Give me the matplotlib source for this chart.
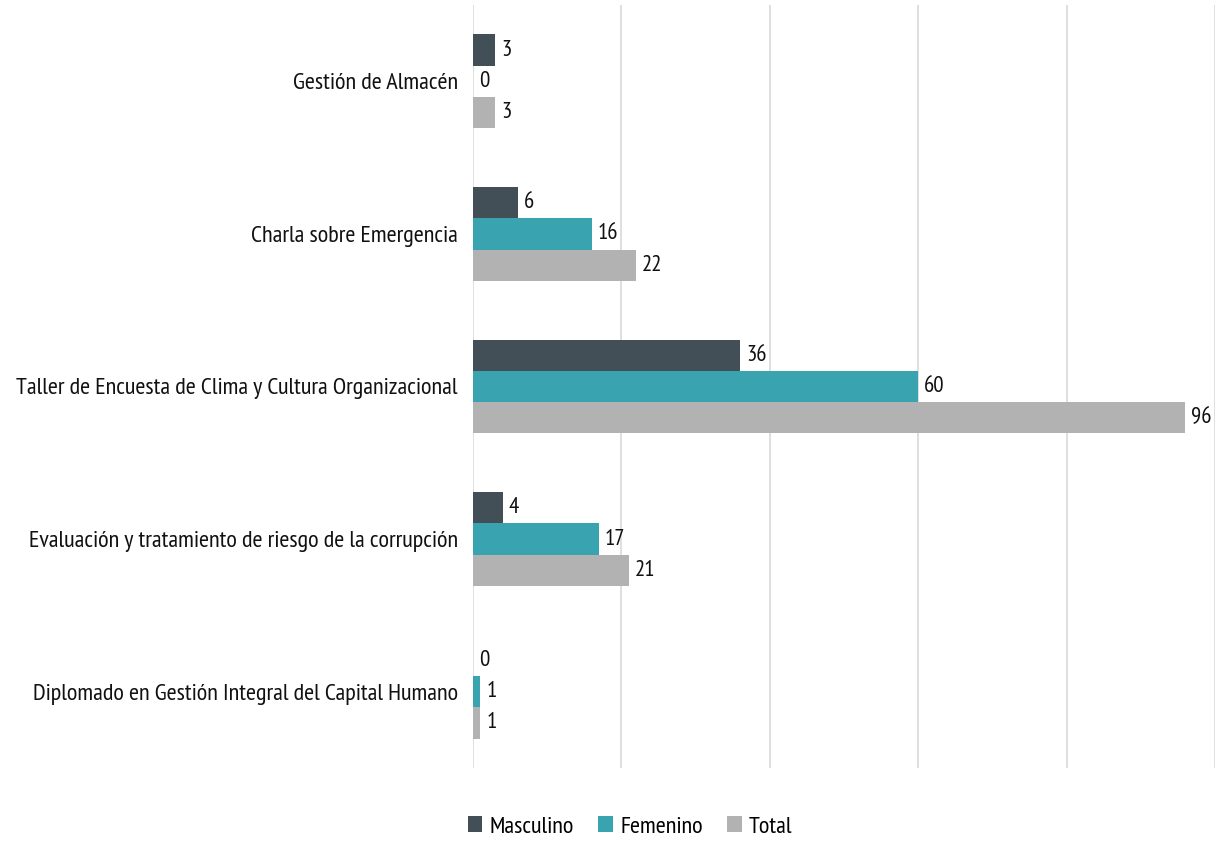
import matplotlib
matplotlib.use("Agg")
import matplotlib.pyplot as plt
import numpy as np

categories = ["Gestión de Almacén", "Charla sobre Emergencia",
              "Taller de Encuesta de Clima y Cultura Organizacional",
              "Evaluación y tratamiento de riesgo de la corrupción",
              "Diplomado en Gestión Integral del Capital Humano"]
masculino = [3, 6, 36, 4, 0]
femenino = [0, 16, 60, 17, 1]
total = [3, 22, 96, 21, 1]
series_names = ["Masculino", "Femenino", "Total"]
colors = ["#434F57", "#3AA3B0", "#B2B2B2"]

plt.rcParams['font.family'] = ['PT Sans Narrow', 'Roboto Condensed', 'DejaVu Sans']

fig = plt.figure(figsize=(12.2, 8.42), dpi=100)
ax = fig.add_axes([473/1220, 74/842, (1215-473)/1220, (768-5)/842])

y = np.arange(len(categories))
h = 0.205
for i, (vals, name, c) in enumerate(zip([masculino, femenino, total], series_names, colors)):
    pos = y + (i - 1) * h
    ax.barh(pos, vals, height=h, color=c, label=name, zorder=3)
    for p, v in zip(pos, vals):
        ax.text(v + 0.8, p, str(v), va='center', ha='left', fontsize=16.5, color='#111111')

ax.set_xlim(0, 100)
ax.set_ylim(len(categories) - 0.5, -0.5)
ax.set_xticks([0, 20, 40, 60, 80, 100])
ax.set_xticklabels([])
ax.tick_params(axis='x', length=0)
ax.tick_params(axis='y', length=0, pad=11)
ax.set_yticks(y)
ax.set_yticklabels(categories, fontsize=17.5, color='#111111')
ax.grid(axis='x', color='#D9D9D9', linewidth=1.2, zorder=0)
for s in ax.spines.values():
    s.set_visible(False)

leg = fig.legend(loc='center', bbox_to_anchor=(630/1220, 1 - 827/842), ncol=3, frameon=False,
                 fontsize=17.5, handlelength=0.6, handleheight=0.6, handletextpad=0.3, columnspacing=1.0)

fig.savefig("out.png", dpi=100)
